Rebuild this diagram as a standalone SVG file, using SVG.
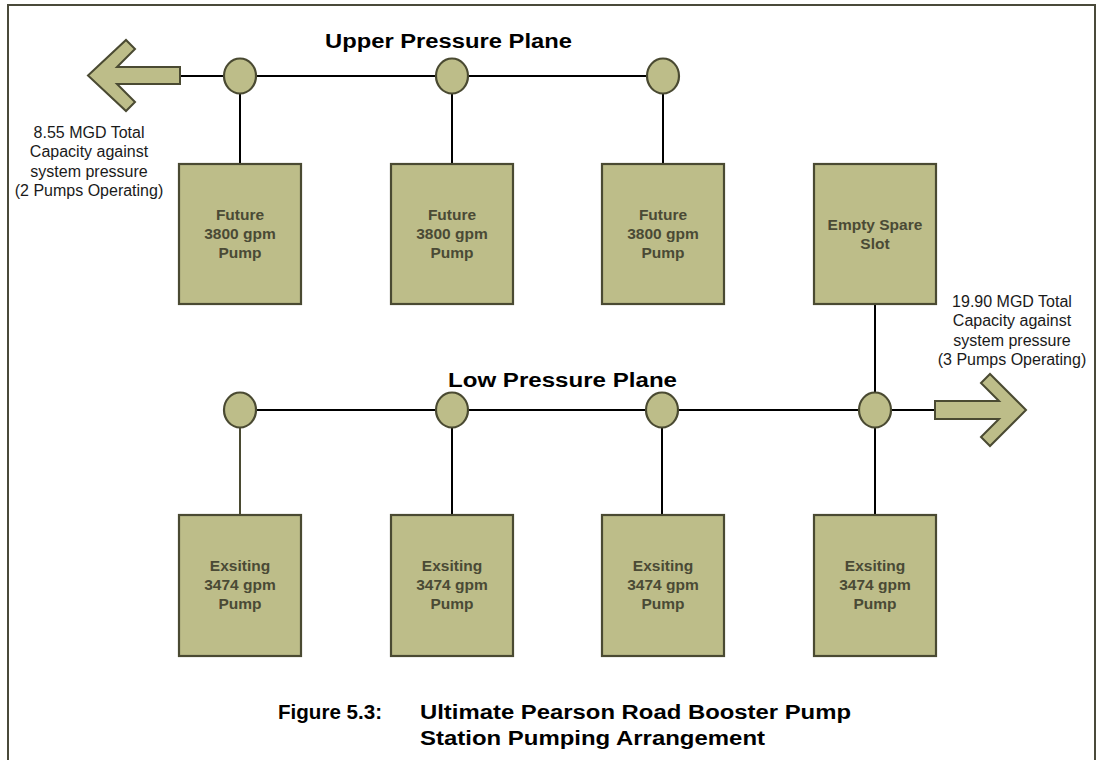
<svg xmlns="http://www.w3.org/2000/svg" width="1099" height="760" viewBox="0 0 1099 760">
<style>
.box{fill:#bdbd89;stroke:#4a4a32;stroke-width:2.2}
.valve{fill:#bdbd89;stroke:#4a4a32;stroke-width:2.2}
.arrow{fill:#bdbd89;stroke:#4a4a32;stroke-width:2;stroke-linejoin:miter}
.pipe{stroke:#000;stroke-width:2;fill:none}
.pipe2{stroke:#4a4a32;stroke-width:2;fill:none}
.bt{font-family:"Liberation Sans",Arial,sans-serif;font-weight:bold;font-size:15.5px;fill:#4a4a35;text-anchor:middle}
.lbl{font-family:"Liberation Sans",Arial,sans-serif;font-size:16px;fill:#1a1a1a;text-anchor:middle}
.ttl{font-family:"Liberation Sans",Arial,sans-serif;font-weight:bold;font-size:24px;fill:#000}
</style>
<rect x="0" y="0" width="1099" height="760" fill="#ffffff"/>
<rect id="frame" x="8" y="5" width="1087" height="770" fill="none" stroke="#4a4a3a" stroke-width="2"/>

<g id="connectors">
  <line class="pipe" x1="180" y1="76" x2="663" y2="76"/>
  <line class="pipe" x1="240" y1="76" x2="240" y2="164"/>
  <line class="pipe" x1="452" y1="76" x2="452" y2="164"/>
  <line class="pipe" x1="663" y1="76" x2="663" y2="164"/>
  <line class="pipe" x1="240" y1="410" x2="935" y2="410"/>
  <line class="pipe2" x1="240" y1="410" x2="240" y2="515"/>
  <line class="pipe" x1="452" y1="410" x2="452" y2="515"/>
  <line class="pipe" x1="662" y1="410" x2="662" y2="515"/>
  <line class="pipe" x1="875" y1="304" x2="875" y2="515"/>
</g>

<g id="arrow-upper">
  <polygon class="arrow" points="88,75.5 126,40 135,49 117,67 180,67 180,84 117,84 135,102 126,111"/>
</g>
<g id="arrow-low">
  <polygon class="arrow" points="1026,410 990,374 981,383 999,401 935,401 935,419 999,419 981,437 990,446"/>
</g>

<g id="valve-u1"><ellipse class="valve" cx="240" cy="76" rx="16" ry="17.5"/></g>
<g id="valve-u2"><ellipse class="valve" cx="452" cy="76" rx="16" ry="17.5"/></g>
<g id="valve-u3"><ellipse class="valve" cx="663" cy="76" rx="16" ry="17.5"/></g>
<g id="valve-l1"><ellipse class="valve" cx="240" cy="410" rx="16" ry="17.5"/></g>
<g id="valve-l2"><ellipse class="valve" cx="452" cy="410" rx="16" ry="17.5"/></g>
<g id="valve-l3"><ellipse class="valve" cx="662" cy="410" rx="16" ry="17.5"/></g>
<g id="valve-l4"><ellipse class="valve" cx="875" cy="410" rx="16" ry="17.5"/></g>

<g id="pump-u1">
  <rect class="box" x="179" y="164" width="122" height="140"/>
  <text class="bt" x="240" y="220">Future</text>
  <text class="bt" x="240" y="239">3800 gpm</text>
  <text class="bt" x="240" y="258">Pump</text>
</g>
<g id="pump-u2">
  <rect class="box" x="391" y="164" width="122" height="140"/>
  <text class="bt" x="452" y="220">Future</text>
  <text class="bt" x="452" y="239">3800 gpm</text>
  <text class="bt" x="452" y="258">Pump</text>
</g>
<g id="pump-u3">
  <rect class="box" x="602" y="164" width="122" height="140"/>
  <text class="bt" x="663" y="220">Future</text>
  <text class="bt" x="663" y="239">3800 gpm</text>
  <text class="bt" x="663" y="258">Pump</text>
</g>
<g id="spare-slot">
  <rect class="box" x="814" y="164" width="122" height="140"/>
  <text class="bt" x="875" y="230">Empty Spare</text>
  <text class="bt" x="875" y="249">Slot</text>
</g>

<g id="pump-l1">
  <rect class="box" x="179" y="515" width="122" height="141"/>
  <text class="bt" x="240" y="571">Exsiting</text>
  <text class="bt" x="240" y="590">3474 gpm</text>
  <text class="bt" x="240" y="609">Pump</text>
</g>
<g id="pump-l2">
  <rect class="box" x="391" y="515" width="122" height="141"/>
  <text class="bt" x="452" y="571">Exsiting</text>
  <text class="bt" x="452" y="590">3474 gpm</text>
  <text class="bt" x="452" y="609">Pump</text>
</g>
<g id="pump-l3">
  <rect class="box" x="602" y="515" width="122" height="141"/>
  <text class="bt" x="663" y="571">Exsiting</text>
  <text class="bt" x="663" y="590">3474 gpm</text>
  <text class="bt" x="663" y="609">Pump</text>
</g>
<g id="pump-l4">
  <rect class="box" x="814" y="515" width="122" height="141"/>
  <text class="bt" x="875" y="571">Exsiting</text>
  <text class="bt" x="875" y="590">3474 gpm</text>
  <text class="bt" x="875" y="609">Pump</text>
</g>

<g id="label-upper">
  <text class="lbl" x="89" y="137.5">8.55 MGD Total</text>
  <text class="lbl" x="89" y="157">Capacity against</text>
  <text class="lbl" x="89" y="176.5">system pressure</text>
  <text class="lbl" x="89" y="196">(2 Pumps Operating)</text>
</g>
<g id="label-low">
  <text class="lbl" x="1012" y="306.5">19.90 MGD Total</text>
  <text class="lbl" x="1012" y="326">Capacity against</text>
  <text class="lbl" x="1012" y="345.5">system pressure</text>
  <text class="lbl" x="1012" y="365">(3 Pumps Operating)</text>
</g>

<g id="titles">
  <text class="ttl" transform="translate(325,48) scale(1,0.875)" textLength="247" lengthAdjust="spacingAndGlyphs">Upper Pressure Plane</text>
  <text class="ttl" transform="translate(448,387) scale(1,0.875)" textLength="229" lengthAdjust="spacingAndGlyphs">Low Pressure Plane</text>
  <text class="ttl" transform="translate(278,719) scale(1,0.875)" textLength="104" lengthAdjust="spacingAndGlyphs">Figure 5.3:</text>
  <text class="ttl" transform="translate(420,719) scale(1,0.875)" textLength="431" lengthAdjust="spacingAndGlyphs">Ultimate Pearson Road Booster Pump</text>
  <text class="ttl" transform="translate(420,745) scale(1,0.875)" textLength="345" lengthAdjust="spacingAndGlyphs">Station Pumping Arrangement</text>
</g>
</svg>
